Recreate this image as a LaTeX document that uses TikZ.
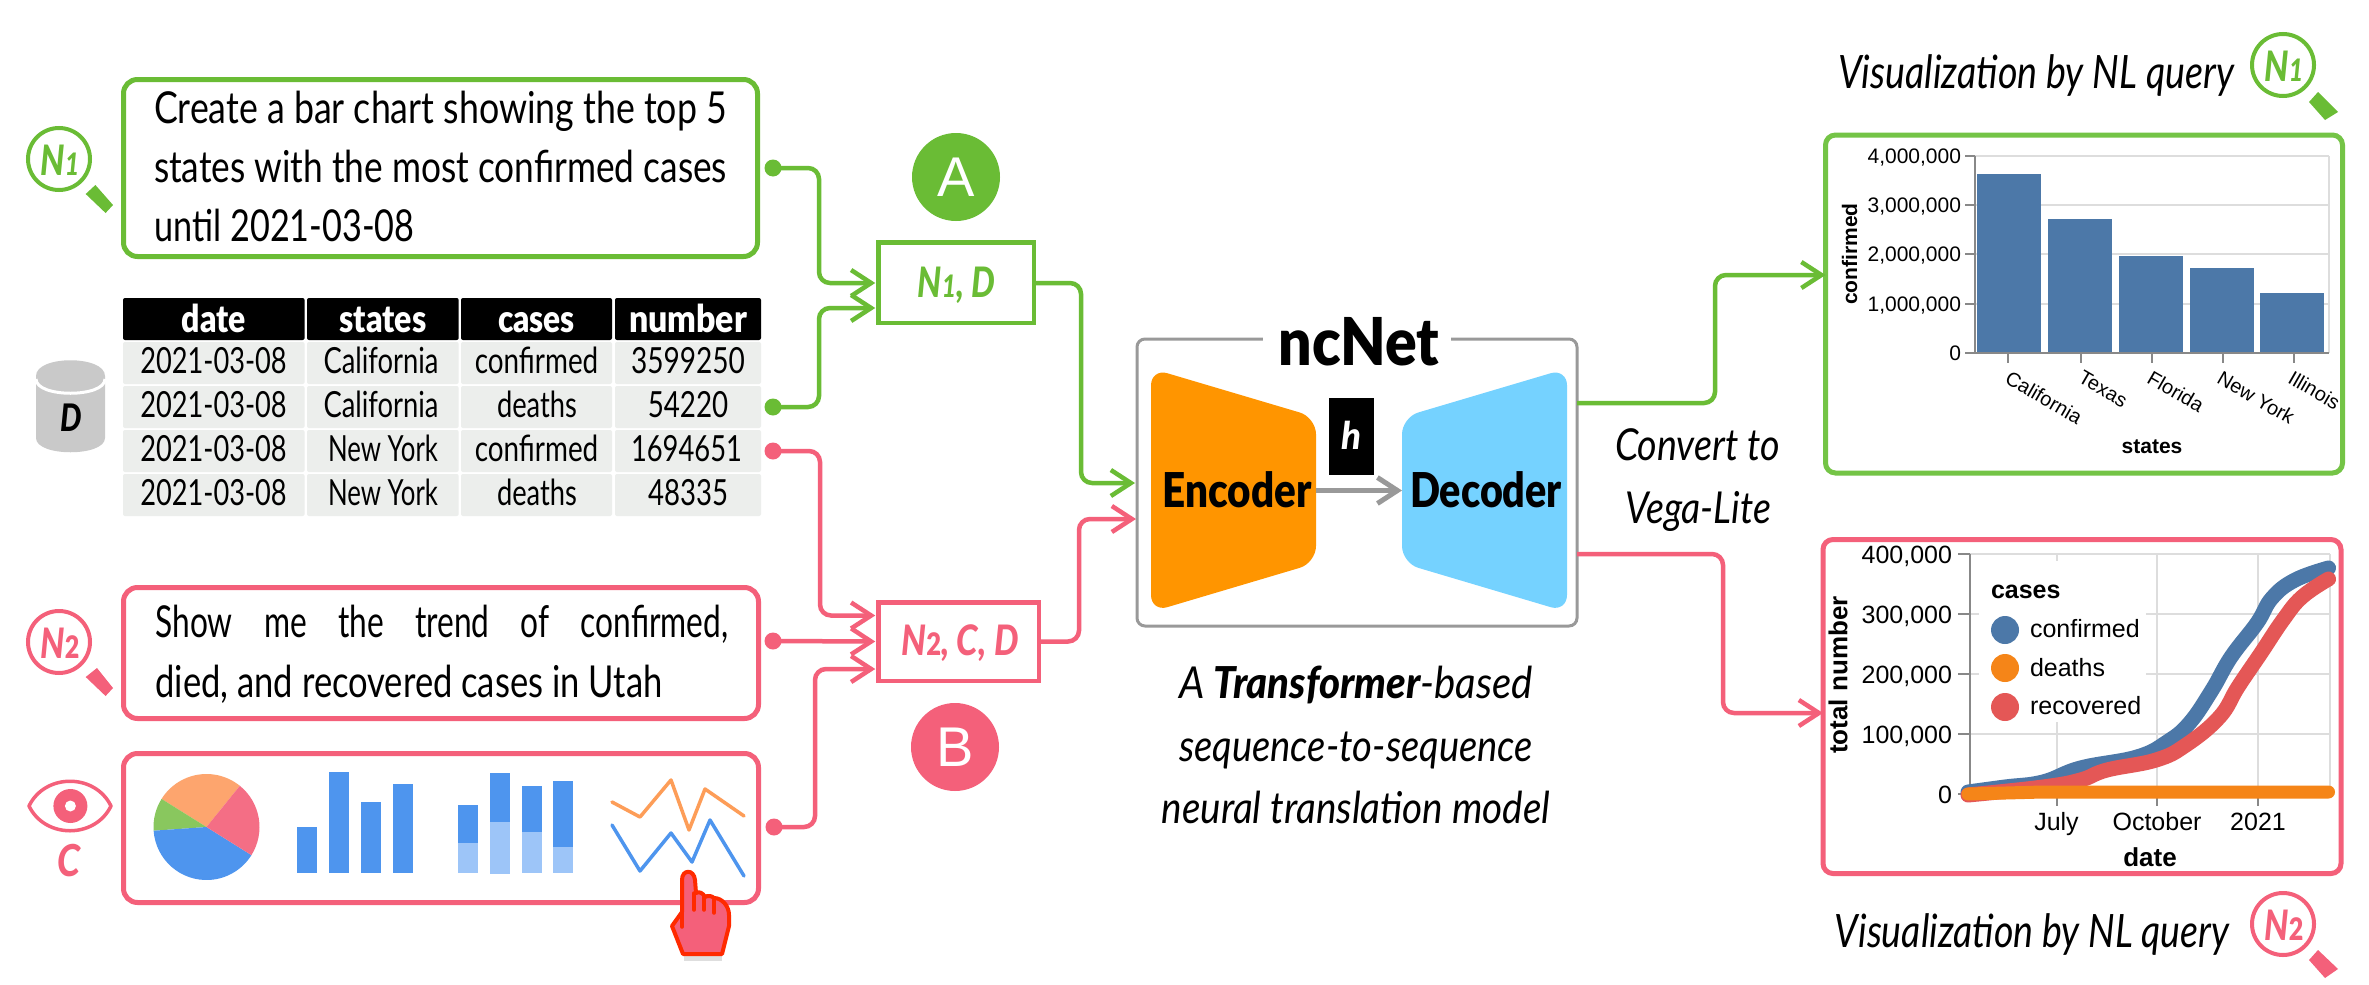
\documentclass[tikz,border=0pt]{standalone}
\usepackage{fontspec}
\usepackage{graphicx}
\usetikzlibrary{arrows.meta,calc}
\setmainfont{Lato}[BoldFont={Lato Black},BoldItalicFont={Lato Black Italic}]
\newfontfamily\chartfont{Liberation Sans}
\definecolor{gr}{HTML}{6ABC35}
\definecolor{grb}{HTML}{74C446}
\definecolor{pk}{HTML}{F4607A}
\definecolor{cellbg}{HTML}{ECEEEC}
\definecolor{barblue}{HTML}{4C78A8}
\definecolor{vlorange}{HTML}{F58518}
\definecolor{vlred}{HTML}{E45756}
\definecolor{iconblue}{HTML}{4E95EE}
\definecolor{iconlight}{HTML}{9DC5F8}
\definecolor{iconorange}{HTML}{FDA56E}
\definecolor{iconpink}{HTML}{F46E85}
\definecolor{icongreen}{HTML}{89C75E}
\definecolor{enc}{HTML}{FF9500}
\definecolor{dec}{HTML}{75D2FF}
\definecolor{netgray}{HTML}{999999}
\definecolor{grid}{HTML}{DDDDDD}
\definecolor{axisgray}{HTML}{888888}
\definecolor{handred}{HTML}{FF2A00}
\newsavebox\fitbox
% fit text to a width in px by condensing the font, keeping its height
\newcommand\fitw[2]{\sbox\fitbox{#2}\pgfmathsetmacro\fitr{#1/\the\wd\fitbox}{\addfontfeature{FakeStretch=\fitr}#2}}
% justified line: stretch the spaces at a fixed letter condensation
\newcommand\justw[2]{{\addfontfeature{FakeStretch=0.72}\makebox[#1pt][s]{#2}}}
\newcommand\fs[1]{\fontsize{#1}{#1}\selectfont}
\tikzset{
 x=1pt,y=-1pt,
 txt/.style={inner sep=0pt,outer sep=0pt,anchor=base},
 txtw/.style={inner sep=0pt,outer sep=0pt,anchor=base west},
 txte/.style={inner sep=0pt,outer sep=0pt,anchor=base east},
 qbox/.style={draw=#1,line width=5pt,rounded corners=14pt,inner sep=0pt,outer sep=0pt,fill=white},
 inbox/.style={draw=#1,line width=4.5pt,inner sep=0pt,outer sep=0pt,fill=white},
 badge/.style={circle,fill=#1,inner sep=0pt,minimum size=88pt,text=white,font=\chartfont\fs{56}},
 dotend/.style={circle,fill=#1,inner sep=0pt,minimum size=17pt,outer sep=0pt},
 conn/.style={draw=#1,line width=4.5pt,rounded corners=11pt,-{Straight Barb[length=20pt,width=26pt,line width=4.5pt]}},
 lens/.style={circle,draw=#1,fill=white,line width=4pt,inner sep=0pt,minimum size=62pt,text=#1},
 head/.style={fill=black,rounded corners=2pt,inner sep=0pt},
 rowc/.style={fill=cellbg,rounded corners=2pt,inner sep=0pt},
 tick/.style={draw=axisgray,line width=2pt},
 gridl/.style={draw=grid,line width=2pt},
 clab/.style={inner sep=0pt,outer sep=0pt,font=\chartfont\fs{20}},
 curve/.style={draw=#1,line width=15pt,line cap=round,line join=round},
}
\begin{document}
\begin{tikzpicture}
\path[use as bounding box,fill=white] (0,0) rectangle (2369,985);

% ---------- N1 query
\node[qbox=gr,minimum width=634pt,minimum height=177pt,rounded corners=14pt] (boxNa) at (440.5,168) {};
\node[txtw,font=\fs{44}] (la) at (154,123) {\fitw{573}{Create a bar chart showing the top 5}};
\node[txtw,font=\fs{44}] (lb) at (154,182) {\fitw{573}{states with the most confirmed cases}};
\node[txtw,font=\fs{44}] (lc) at (154.5,241) {\fitw{260}{until 2021-03-08}};
\node[dotend=gr] (dotNa) at (773,168) {};

% lens N1
\fill[gr] (95.4,185) -- (113,205) -- (105.6,213) -- (85.7,194) -- cycle;
\node[lens=gr] (lensNa) at (59,159) {};
\node[txt,text=gr,font=\bfseries\itshape\fs{42}] (lensNat) at (60,175) {\fitw{39}{N{\fs{31}1}}};

% ---------- Table
\foreach \n/\xa/\xb/\t/\w in {a/123/304.6/date/64,b/307/458.7/states/87,c/461/612/cases/77,d/615/761/number/118}{
  \node[head,minimum width=\xb pt-\xa pt,minimum height=42pt] (h\n) at ({(\xa+\xb)/2},319) {};
  \node[txt,text=white,font=\bfseries\fs{38}] (ht\n) at ({(\xa+\xb)/2},332) {\fitw{\w}{\t}};
}
\foreach \r/\ya/\yb/\bl in {1/342/384/373,2/386/428/417,3/430/472/461,4/474/516/505}{
  \foreach \n/\xa/\xb in {a/123/304.6,b/307/458.7,c/461/612,d/615/761}{
    \node[rowc,minimum width=\xb pt-\xa pt,minimum height=\yb pt-\ya pt] (c\n\r) at ({(\xa+\xb)/2},{(\ya+\yb)/2}) {};
  }
  \node[txt,font=\fs{36}] (tx\r) at (213.5,\bl) {\fitw{146.5}{2021-03-08}};
}
\node[txt,font=\fs{36}] (s1) at (381,373) {\fitw{115}{California}};
\node[txt,font=\fs{36}] (s2) at (381,417) {\fitw{115}{California}};
\node[txt,font=\fs{36}] (s3) at (383,461) {\fitw{110}{New York}};
\node[txt,font=\fs{36}] (s4) at (383,505) {\fitw{110}{New York}};
\node[txt,font=\fs{36}] (k1) at (536.5,373) {\fitw{123.5}{confirmed}};
\node[txt,font=\fs{36}] (k2) at (537,417) {\fitw{80}{deaths}};
\node[txt,font=\fs{36}] (k3) at (536.5,461) {\fitw{123.5}{confirmed}};
\node[txt,font=\fs{36}] (k4) at (537,505) {\fitw{80}{deaths}};
\node[txt,font=\fs{36}] (v1) at (688,373) {\fitw{114}{3599250}};
\node[txt,font=\fs{36}] (v2) at (688,417) {\fitw{80.5}{54220}};
\node[txt,font=\fs{36}] (v3) at (686.5,461) {\fitw{111}{1694651}};
\node[txt,font=\fs{36}] (v4) at (688,505) {\fitw{80}{48335}};
\node[dotend=gr] (dotD) at (773,407) {};
\node[dotend=pk] (dotDp) at (773,451) {};

% cylinder D
\fill[black!21] (36,376) .. controls (36,355) and (105,355) .. (105,376) -- (105,438) .. controls (105,457) and (36,457) .. (36,438) -- cycle;
\draw[white,line width=3pt] (36,379) .. controls (36,398) and (105,398) .. (105,379);
\node[txt,font=\bfseries\itshape\fs{38}] (dbl) at (71,431) {\fitw{21.5}{D}};

% ---------- N2 query
\node[qbox=pk,minimum width=635pt,minimum height=131pt] (boxNb) at (441,653) {};
\node[txtw,font=\fs{44}] (ld) at (155.5,637) {\justw{573}{Show me the trend of confirmed,}};
\node[txtw,font=\fs{44}] (le) at (155.5,697) {\fitw{507}{died, and recovered cases in Utah}};
\node[dotend=pk] (dotNb) at (773,641) {};
\fill[pk] (97,668) -- (113,688) -- (105.6,696) -- (85.7,677) -- cycle;
\node[lens=pk] (lensNb) at (59,642) {};
\node[txt,text=pk,font=\bfseries\itshape\fs{42}] (lensNbt) at (60,658) {\fitw{39}{N{\fs{31}\upshape 2}}};

% ---------- C box
\node[qbox=pk,minimum width=635pt,minimum height=149pt] (boxC) at (441,828) {};
\node[dotend=pk] (dotC) at (774,827) {};
% eye
\draw[pk,line width=3.5pt,line join=round] (29,806) .. controls (45,773) and (95,773) .. (111,806) .. controls (95,839) and (45,839) .. (29,806) -- cycle;
\fill[pk] (70.4,806) circle (17);
\fill[white] (70.4,806) circle (5.5);
\node[txt,text=pk,font=\bfseries\itshape\fs{44}] (clab) at (69,876) {\fitw{23}{C}};
% pie
\begin{scope}[shift={(206.5,827)},x=1pt,y=1pt]
\fill[iconorange] (0,0) -- (51:53) arc (51:148:53) -- cycle;
\fill[icongreen] (0,0) -- (148:53) arc (148:184:53) -- cycle;
\fill[iconblue] (0,0) -- (184:53) arc (184:328:53) -- cycle;
\fill[iconpink] (0,0) -- (328:53) arc (328:411:53) -- cycle;
\end{scope}
% bars
\fill[iconblue] (297,827) rectangle (317,873);
\fill[iconblue] (329,772) rectangle (349,873);
\fill[iconblue] (361,802) rectangle (381,873);
\fill[iconblue] (393,784) rectangle (413,873);
% stacked
\fill[iconlight] (458,843) rectangle (478,873);
\fill[iconblue] (458,805) rectangle (478,843);
\fill[iconlight] (490,822) rectangle (510,874);
\fill[iconblue] (490,773) rectangle (510,822);
\fill[iconlight] (522,832) rectangle (542,873);
\fill[iconblue] (522,786) rectangle (542,832);
\fill[iconlight] (553,847) rectangle (573,873);
\fill[iconblue] (553,781) rectangle (573,847);
% lines
\draw[color=iconorange!80!orange,line width=3.5pt,line cap=round,line join=round] (612,802) -- (640,817) -- (671,780) -- (689,830) -- (705,789) -- (744,816);
\draw[iconblue,line width=3.5pt,line cap=round,line join=round] (612,825) -- (640,871) -- (671,833) -- (692,862) -- (710,820) -- (744,876);
% hand
\fill[black!25,opacity=.5] (684,954) rectangle (722,961);
\path[fill=pk,draw=handred,line width=4pt,line join=round]
 (682,880) .. controls (682,869) and (694,869) .. (695,880) -- (696,893) .. controls (699,891) and (703,893) .. (705,897)
 .. controls (708,895) and (712,896) .. (714,898) .. controls (722,898) and (729,906) .. (729,915) -- (729,926) -- (722,954) -- (683,954) -- (672,926) -- (682,912) -- cycle;
\draw[draw=handred,line width=3.5pt,line cap=round] (682,905) -- (682,927) (694,893) -- (694,910) (704,897) -- (704,910) (714,900) -- (714,913);

% ---------- input boxes
\node[inbox=gr,minimum width=155.5pt,minimum height=80.5pt] (inA) at (956,282.5) {};
\node[txt,text=gr,font=\bfseries\itshape\fs{42}] (inAt) at (956.5,297) {\fitw{77.5}{N{\fs{31}1}, D}};
\node[inbox=pk,minimum width=160.5pt,minimum height=78.5pt] (inB) at (958.5,641.5) {};
\node[txt,text=pk,font=\bfseries\itshape\fs{42}] (inBt) at (960,655.5) {\fitw{117}{N{\fs{31}\upshape 2}, C, D}};
\node[badge=gr] (bA) at (956,177) {A};
\node[badge=pk] (bB) at (955,747) {B};

% ---------- ncNet
\node[draw=netgray,line width=3pt,rounded corners=8pt,minimum width=440pt,minimum height=287pt,inner sep=0pt,outer sep=0pt] (net) at (1357,482.5) {};
\node[fill=white,minimum width=188pt,minimum height=40pt,inner sep=0pt] (netbg) at (1357,342) {};
\node[txt,font=\bfseries\fs{66}] (netl) at (1359,365) {\fitw{161}{ncNet}};
\fill[enc,rounded corners=17pt] (1151,368.4) -- (1316,417.3) -- (1316,563) -- (1151,612) -- cycle;
\fill[dec,rounded corners=17pt] (1567,368.4) -- (1402,417.3) -- (1402,563) -- (1567,612) -- cycle;
\coordinate (encR) at (1316,490.5);
\coordinate (decL) at (1402,490.5);
\draw[draw=netgray,line width=5pt,-{Straight Barb[length=20pt,width=26pt,line width=5pt]}] (encR) -- (decL);
\node[fill=black,minimum width=45pt,minimum height=77pt,inner sep=0pt] (hb) at (1351.5,436.5) {};
\node[txt,text=white,font=\bfseries\itshape\fs{38}] (ht) at (1351,449) {\fitw{20}{h}};
\node[txt,font=\bfseries\fs{48}] (et) at (1237,507) {\fitw{149}{Encoder}};
\node[txt,font=\bfseries\fs{48}] (dt) at (1486,507) {\fitw{152}{Decoder}};

% captions
\node[txt,font=\itshape\fs{44}] (c1) at (1356,698) {\fitw{354}{A \textbf{Transformer}-based}};
\node[txt,font=\itshape\fs{44}] (c2) at (1356,761) {\fitw{354}{sequence-to-sequence}};
\node[txt,font=\itshape\fs{44}] (c3) at (1356,823) {\fitw{389}{neural translation model}};
\node[txt,font=\itshape\fs{44}] (c4) at (1697.5,460) {\fitw{165}{Convert to}};
\node[txt,font=\itshape\fs{44}] (c5) at (1698,523) {\fitw{146}{Vega-Lite}};

% ---------- connectors
\coordinate (vA) at (819,0);
\coordinate (vB) at (820,0);
\coordinate (vC) at (815,0);
\coordinate (vAo) at (1081,0);
\coordinate (vBo) at (1079,0);
\coordinate (vG) at (1715,0);
\coordinate (vP) at (1723,0);
\coordinate (inA1) at ($(inA.west |- 0,283)+(-3,0)$);
\coordinate (inA2) at ($(inA.west |- 0,308)+(-3,0)$);
\coordinate (inB1) at ($(inB.west |- 0,615.5)+(-3,0)$);
\coordinate (inB2) at ($(inB.west |- 0,641.5)+(-3,0)$);
\coordinate (inB3) at ($(inB.west |- 0,669)+(-3,0)$);
\coordinate (netA) at (1135,483);
\coordinate (netB) at (1136,519);
\coordinate (outG) at (1577,403);
\coordinate (outP) at (1577,554);
\path[conn=gr] (dotNa.center) -- (dotNa -| vA) -- (inA1 -| vA) -- (inA1);
\path[conn=gr] (dotD.center) -- (dotD -| vA) -- (inA2 -| vA) -- (inA2);
\path[conn=pk] (dotDp.center) -- (dotDp -| vB) -- (inB1 -| vB) -- (inB1);
\path[conn=pk] (dotNb.center) -- (inB2);
\path[conn=pk] (dotC.center) -- (dotC -| vC) -- (inB3 -| vC) -- (inB3);
\path[conn=gr] (inA.east |- inA1) -- (inA1 -| vAo) -- (netA -| vAo) -- (netA);
\path[conn=pk] (inB.east |- inB2) -- (inB2 -| vBo) -- (netB -| vBo) -- (netB);

% ---------- chart 1
\node[qbox=grb,rounded corners=10pt,minimum width=517pt,minimum height=338pt] (ch1) at (2084,304) {};
\path[conn=gr] (outG) -- (outG -| vG) -- (vG |- 0,275) -- (ch1.west |- 0,275);
\foreach \yy in {156,205,254,304}{\draw[gridl] (1975,\yy) -- (2329,\yy);}
\draw[gridl] (2329,156) -- (2329,353);
\fill[barblue] (1977,174) rectangle (2041,353);
\fill[barblue] (2048,219) rectangle (2112,353);
\fill[barblue] (2119,256) rectangle (2183,353);
\fill[barblue] (2190,268) rectangle (2254,353);
\fill[barblue] (2260,293) rectangle (2324,353);
\draw[tick] (1975,156) -- (1975,353) -- (2329,353);
\foreach \yy/\t in {156/{4,000,000},205/{3,000,000},254/{2,000,000},304/{1,000,000},353/0}{
  \draw[tick] (1965,\yy) -- (1975,\yy);
  \node[txte,font=\chartfont\fs{21}] at (1961,{\yy+7.5}) {\t};
}
\foreach \xx in {2008,2081,2152,2223,2294}{\draw[tick] (\xx,353) -- (\xx,363);}
\foreach \xx/\t in {2011/California,2084/Texas,2153/Florida,2223/New York,2294/Illinois}{
  \node[clab,anchor=north west,rotate=-30] at (\xx,370) {\t};
}
\node[clab,rotate=90,anchor=center,font=\chartfont\bfseries\fs{21}] (ya) at (1849.5,254) {confirmed};
\node[txt,font=\chartfont\bfseries\fs{21}] (xa) at (2152,453) {states};
\node[txt,font=\itshape\fs{46}] (t1) at (2036,88) {\fitw{396}{Visualization by NL query}};
\fill[gr] (2318,92) -- (2338,112) -- (2325,120) -- (2309,102) -- cycle;
\node[lens=gr] (lensT) at (2283,65) {};
\node[txt,text=gr,font=\bfseries\itshape\fs{42}] (lensTt) at (2284,81) {\fitw{39}{N{\fs{31}1}}};

% ---------- chart 2
\node[qbox=pk,rounded corners=10pt,minimum width=518pt,minimum height=334pt] (ch2) at (2082,706.5) {};
\path[conn=pk] (outP) -- (outP -| vP) -- (vP |- 0,713) -- (ch2.west |- 0,713);
\foreach \yy in {554,614,674,734}{\draw[gridl] (1970,\yy) -- (2330,\yy);}
\foreach \xx in {2056.5,2157,2258,2330}{\draw[gridl] (\xx,554) -- (\xx,794);}
\fill[white] (1979,561) rectangle (2146,722);
\draw[tick] (1970,554) -- (1970,794);
\foreach \yy/\t in {554/{400,000},614/{300,000},674/{200,000},734/{100,000},794/0}{
  \draw[tick] (1958,\yy) -- (1970,\yy);
  \node[txte,font=\chartfont\fs{25}] at (1952,{\yy+9}) {\t};
}
\foreach \xx/\t in {2056.5/July,2157/October,2258/2021}{
  \draw[tick] (\xx,794) -- (\xx,806);
  \node[txt,font=\chartfont\fs{25}] at (\xx,830) {\t};
}
\draw[curve=barblue] plot[smooth,tension=.7] coordinates {(1968,792) (2005,787) (2043,782) (2080.5,768) (2137,757) (2167,742) (2189.5,723) (2212,690) (2231,657) (2257,623) (2272,598) (2295,580) (2328.5,568)};
\draw[curve=vlred] plot[smooth,tension=.7] coordinates {(1968,795) (2043,787) (2080.5,780) (2107,770) (2156,760) (2186,745) (2219.5,717) (2238,687) (2261,653) (2283,620) (2302,597) (2328.5,579)};
\draw[curve=vlorange,line width=13pt] (1968,794) -- (2043,792) -- (2080,792) -- (2328.5,792);
\node[txtw,font=\chartfont\bfseries\fs{25}] (lg) at (1991,598) {cases};
\fill[barblue] (2005,630) circle (14);
\fill[vlorange] (2005,668) circle (14);
\fill[vlred] (2005,707) circle (14);
\node[txtw,font=\chartfont\fs{25}] (lg1) at (2030,637) {confirmed};
\node[txtw,font=\chartfont\fs{25}] (lg2) at (2030,676) {deaths};
\node[txtw,font=\chartfont\fs{25}] (lg3) at (2030,714) {recovered};
\node[clab,rotate=90,anchor=center,font=\chartfont\bfseries\fs{26}] (ya2) at (1838,675) {total number};
\node[txt,font=\chartfont\bfseries\fs{26}] (xa2) at (2150,866) {date};
\node[txt,font=\itshape\fs{46}] (t2) at (2032,947) {\fitw{394.5}{Visualization by NL query}};
\fill[pk] (2318,950) -- (2338,969) -- (2325,978) -- (2309,960) -- cycle;
\node[lens=pk] (lensB) at (2283,924) {};
\node[txt,text=pk,font=\bfseries\itshape\fs{42}] (lensBt) at (2284,940) {\fitw{39}{N{\fs{31}\upshape 2}}};
\end{tikzpicture}
\end{document}
